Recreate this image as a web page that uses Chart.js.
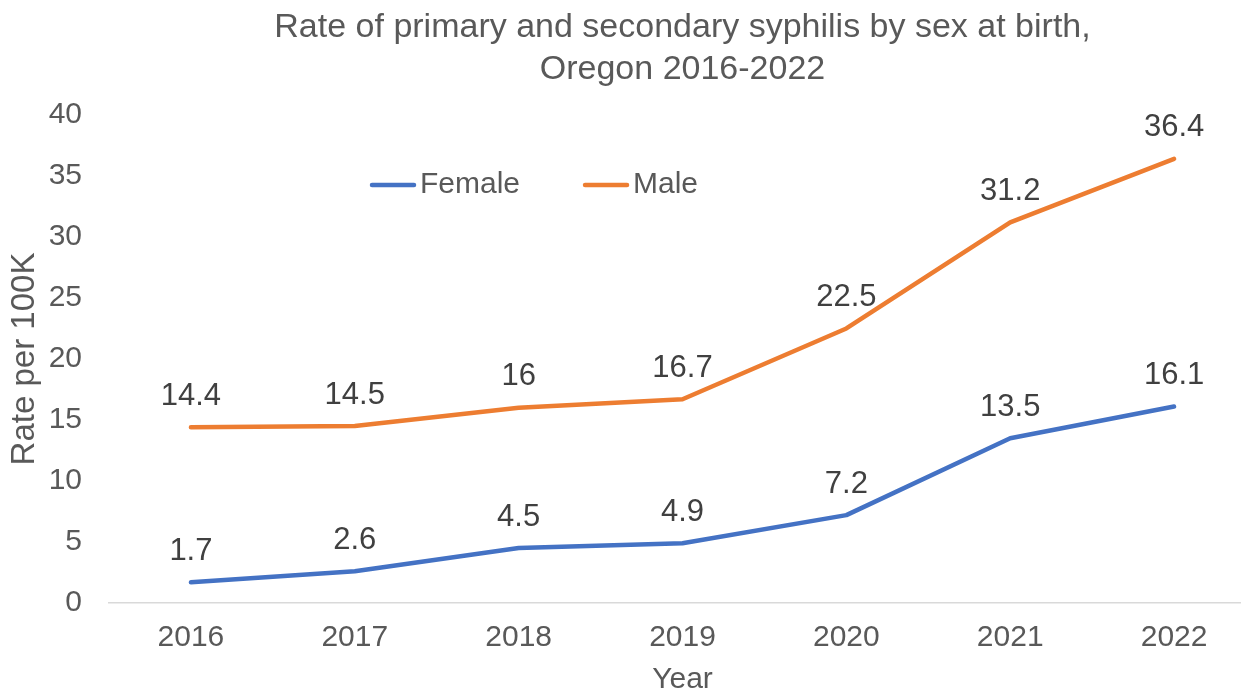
<!DOCTYPE html>
<html>
<head>
<meta charset="utf-8">
<script src="https://cdn.jsdelivr.net/npm/chart.js@4.4.0/dist/chart.umd.min.js"></script>
<style>
  html, body { margin: 0; padding: 0; background: #ffffff; overflow: hidden; }
  #frame { width: 1241px; height: 691px; overflow: hidden; position: relative; }
  #box { width: 1256px; height: 700px; position: absolute; left: 0; top: 0; }
</style>
</head>
<body>
<div id="frame"><div id="box"><canvas id="chartMain"></canvas></div></div>
<script>
const years = ['2016', '2017', '2018', '2019', '2020', '2021', '2022'];
const female = [1.7, 2.6, 4.5, 4.9, 7.2, 13.5, 16.1];
const male = [14.4, 14.5, 16, 16.7, 22.5, 31.2, 36.4];
const seriesNames = ['Female', 'Male'];
const seriesColors = ['#4472C4', '#ED7D31'];

const FONT = '"Liberation Sans", Arial, sans-serif';
const TEXT = '#595959';

// value labels above each point
const valueLabels = {
    id: 'valueLabels',
    afterDatasetsDraw(chart) {
        const ctx = chart.ctx;
        ctx.save();
        ctx.font = '31px ' + FONT;
        ctx.fillStyle = '#404040';
        ctx.textAlign = 'center';
        ctx.textBaseline = 'middle';
        chart.data.datasets.forEach((ds, i) => {
            chart.getDatasetMeta(i).data.forEach((pt, j) => {
                ctx.fillText(String(ds.data[j]), pt.x, pt.y - 31);
            });
        });
        ctx.restore();
    }
};

// legend sits inside the plot area
const insideLegend = {
    id: 'insideLegend',
    afterDraw(chart) {
        const ctx = chart.ctx;
        let x = 370;
        const y = 185;
        ctx.save();
        ctx.font = '30px ' + FONT;
        ctx.textBaseline = 'middle';
        ctx.textAlign = 'left';
        chart.data.datasets.forEach(ds => {
            ctx.strokeStyle = ds.borderColor;
            ctx.lineWidth = 4.5;
            ctx.lineCap = 'round';
            ctx.beginPath();
            ctx.moveTo(x + 2, y);
            ctx.lineTo(x + 44, y);
            ctx.stroke();
            ctx.fillStyle = TEXT;
            ctx.fillText(ds.label, x + 50, y);
            x += 50 + ctx.measureText(ds.label).width + 63;
        });
        ctx.restore();
    }
};

new Chart(document.getElementById('chartMain'), {
    type: 'line',
    data: {
        labels: years,
        datasets: [female, male].map((vals, i) => ({
            label: seriesNames[i],
            data: vals,
            borderColor: seriesColors[i],
            backgroundColor: seriesColors[i],
            borderWidth: 4.5,
            borderCapStyle: 'round',
            borderJoinStyle: 'round',
            pointRadius: 0,
            tension: 0,
            fill: false
        }))
    },
    options: {
        responsive: true,
        maintainAspectRatio: false,
        animation: false,
        layout: { padding: 0 },
        plugins: {
            legend: { display: false },
            tooltip: { enabled: false },
            title: {
                display: true,
                fullSize: false,
                text: ['Rate of primary and secondary syphilis by sex at birth,', 'Oregon 2016-2022'],
                color: TEXT,
                font: { family: FONT, size: 34, weight: 'normal', lineHeight: 1.22 },
                padding: { top: 7, bottom: 25 }
            }
        },
        scales: {
            x: {
                offset: true,
                grid: { display: false, drawTicks: false },
                border: { display: true, color: '#d9d9d9', width: 1.5 },
                ticks: { color: TEXT, font: { family: FONT, size: 30 }, padding: 17, maxRotation: 0 },
                title: { display: true, text: 'Year', color: TEXT, font: { family: FONT, size: 30 }, padding: { top: 4, bottom: 2 } },
                afterFit(s) { s.height = 97; }
            },
            y: {
                min: 0,
                max: 40,
                grid: { display: false, drawTicks: false },
                border: { display: false },
                ticks: { stepSize: 5, color: TEXT, font: { family: FONT, size: 30 }, padding: 27 },
                title: { display: true, text: 'Rate per 100K', color: TEXT, font: { family: FONT, size: 33 }, padding: { top: 5, bottom: 4 } },
                afterFit(s) { s.width = 109; }
            }
        }
    },
    plugins: [valueLabels, insideLegend]
});
</script>
</body>
</html>
